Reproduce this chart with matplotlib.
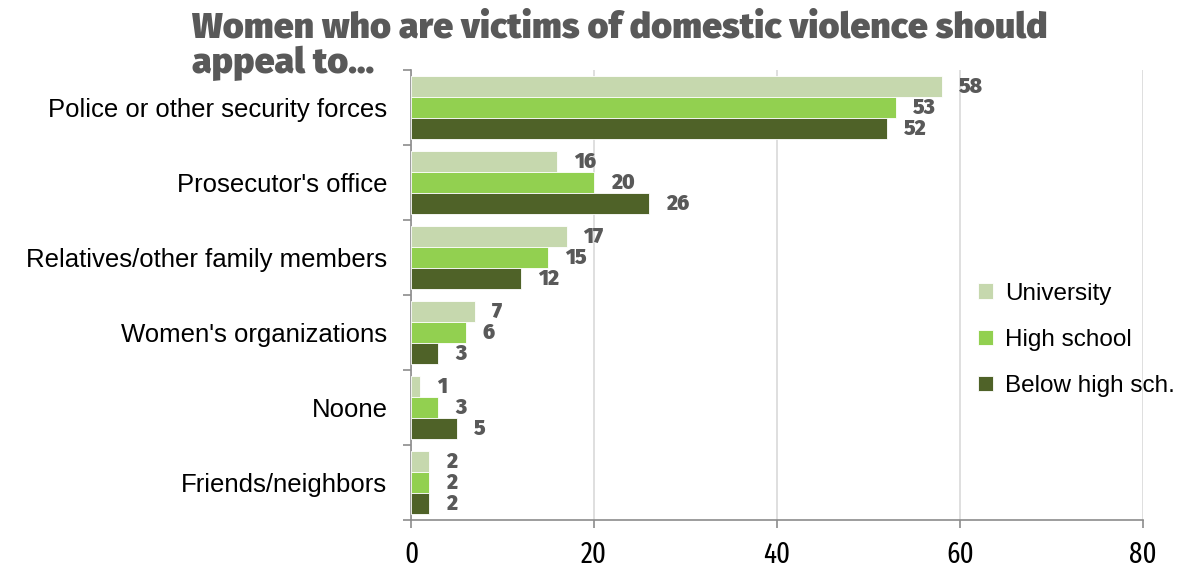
import matplotlib
matplotlib.use("Agg")
import matplotlib.pyplot as plt
import numpy as np

categories = [
    "Police or other security forces",
    "Prosecutor's office",
    "Relatives/other family members",
    "Women's organizations",
    "Noone",
    "Friends/neighbors",
]
series_names = ["University", "High school", "Below high sch."]
university = [58, 16, 17, 7, 1, 2]
high_school = [53, 20, 15, 6, 3, 2]
below_high = [52, 26, 12, 3, 5, 2]
x_ticks = [0, 20, 40, 60, 80]
title_lines = ["Women who are victims of domestic violence should", "appeal to..."]

colors = ["#C6D8AE", "#92D050", "#4F6228"]
label_grey = "#595959"
axis_grey = "#8C8C8C"
grid_grey = "#D9D9D9"

body_font = ["Liberation Sans", "DejaVu Sans"]
narrow_font = ["Fira Sans Extra Condensed", "DejaVu Sans"]
heavy_font = ["Fira Sans", "DejaVu Sans"]
title_font = ["Fira Sans", "DejaVu Sans"]

fig = plt.figure(figsize=(11.78, 5.69), dpi=100)
ax = fig.add_axes([0.3489, 0.0861, 0.6214, 0.791])

y = np.arange(len(categories))
h = 0.28
offsets = [-h, 0, h]
for vals, name, col, off in zip([university, high_school, below_high],
                                series_names, colors, offsets):
    bars = ax.barh(y + off, vals, height=h, color=col, label=name,
                   edgecolor="white", linewidth=0.6, zorder=3)
    for b, v in zip(bars, vals):
        ax.annotate(f"{v}", (b.get_width(), b.get_y() + b.get_height() / 2),
                    xytext=(17, 0), textcoords="offset pixels",
                    va="center", ha="left", fontsize=15, fontweight=900,
                    color=label_grey, family=heavy_font)

ax.set_xlim(0, 80)
ax.set_ylim(len(categories) - 0.5, -0.5)
ax.set_xticks(x_ticks)
ax.set_xticklabels([str(t) for t in x_ticks], fontsize=21, family=narrow_font)
ax.xaxis.grid(True, color=grid_grey, linewidth=1.2, zorder=0)
ax.set_axisbelow(True)

# category boundaries carry the tick marks; labels sit at the centers
ax.set_yticks(np.arange(len(categories) + 1) - 0.5)
ax.set_yticklabels([])
ax.set_yticks(y, minor=True)
ax.set_yticklabels(categories, minor=True, fontsize=18.5, family=body_font)
ax.tick_params(axis="y", which="minor", length=0, pad=17)
ax.tick_params(axis="y", which="major", length=6, color=axis_grey, width=1.2)
ax.tick_params(axis="x", length=6, color=axis_grey, width=1.2, pad=9)

for s in ["top", "right"]:
    ax.spines[s].set_visible(False)
for s in ["left", "bottom"]:
    ax.spines[s].set_color(axis_grey)
    ax.spines[s].set_linewidth(1.2)

leg = ax.legend(loc="center left", bbox_to_anchor=(0.745, 0.4), frameon=False,
                prop={"family": body_font, "size": 17.5},
                handlelength=0.6, handleheight=0.6, handletextpad=0.5,
                labelspacing=1.0)

fig.text(0.163, 1 - 37 / 569, title_lines[0], fontsize=25.8, fontweight=900,
         color=label_grey, va="baseline", ha="left", family=title_font)
fig.text(0.163, 1 - 73 / 569, title_lines[1], fontsize=25.8, fontweight=900,
         color=label_grey, va="baseline", ha="left", family=title_font)

fig.savefig("out.png", dpi=100)
